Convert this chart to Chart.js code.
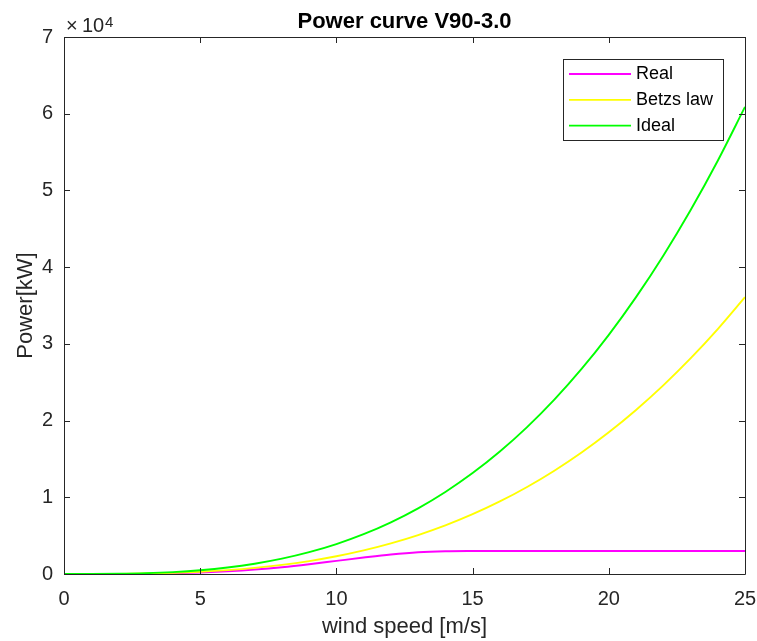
<!DOCTYPE html>
<html>
<head>
<meta charset="utf-8">
<title>Power curve V90-3.0</title>
<script src="https://cdn.jsdelivr.net/npm/chart.js@4.4.1/dist/chart.umd.min.js"></script>
<style>
  html, body { margin: 0; padding: 0; background: #ffffff; }
  #wrap { width: 757px; height: 641px; }
</style>
</head>
<body>
<div id="wrap"><canvas id="powerChart" width="757" height="641"></canvas></div>
<script>
// Wind speed in m/s
const windSpeed = [0, 1, 2, 3, 4, 5, 6, 7, 8, 9, 10, 11, 12, 13, 14, 15, 16, 17, 18, 19, 20, 21, 22, 23, 24, 25];
// Manufacturer power curve of the V90-3.0 turbine, kW
const realPower = [0, 0, 0, 0, 77, 190, 353, 581, 886, 1273, 1710, 2145, 2544, 2837, 2965, 2995, 3000, 3000, 3000, 3000, 3000, 3000, 3000, 3000, 3000, 3000];
// Betz-limited power, kW
const betzPower = [0, 2, 18, 62, 148, 289, 499, 792, 1182, 1684, 2309, 3074, 3991, 5073, 6337, 7794, 9459, 11346, 13468, 15840, 18475, 21387, 24590, 28097, 31924, 36082];
// Total kinetic power in the rotor disc, kW
const idealPower = [0, 4, 31, 105, 249, 487, 842, 1337, 1995, 2841, 3897, 5187, 6734, 8561, 10693, 13152, 15962, 19146, 22727, 26729, 31176, 36090, 41495, 47414, 53871, 60889];

const seriesNames = ['Real', 'Betzs law', 'Ideal'];
const seriesColors = ['#ff00ff', '#ffff00', '#00ff00'];

const xTicks = [0, 5, 10, 15, 20, 25];
const yTicks = [0, 10000, 20000, 30000, 40000, 50000, 60000, 70000];
const yTickLabels = ['0', '1', '2', '3', '4', '5', '6', '7'];

const FONT = '"Liberation Sans", Arial, Helvetica, sans-serif';
const AXIS_COLOR = '#262626';

const toPoints = (vals) => windSpeed.map((v, i) => ({ x: v, y: vals[i] }));

// Box, inward ticks, exponent, title and legend in the MATLAB look
const framePlugin = {
  id: 'frame',
  afterDatasetsDraw(chart) {
    const { ctx, chartArea: a, scales } = chart;
    const xs = scales.x, ys = scales.y;
    const tl = 6;
    ctx.save();
    ctx.strokeStyle = AXIS_COLOR;
    ctx.lineWidth = 1;
    ctx.beginPath();
    ctx.rect(Math.round(a.left) + 0.5, Math.round(a.top) + 0.5,
             Math.round(a.right - a.left), Math.round(a.bottom - a.top));
    ctx.stroke();
    ctx.beginPath();
    xTicks.forEach(v => {
      const px = Math.round(xs.getPixelForValue(v)) + 0.5;
      ctx.moveTo(px, a.bottom); ctx.lineTo(px, a.bottom - tl);
      ctx.moveTo(px, a.top); ctx.lineTo(px, a.top + tl);
    });
    yTicks.forEach(v => {
      const py = Math.round(ys.getPixelForValue(v)) + 0.5;
      ctx.moveTo(a.left, py); ctx.lineTo(a.left + tl, py);
      ctx.moveTo(a.right, py); ctx.lineTo(a.right - tl, py);
    });
    ctx.stroke();

    // exponent of the y axis
    ctx.fillStyle = AXIS_COLOR;
    ctx.textBaseline = 'alphabetic';
    ctx.textAlign = 'left';
    ctx.font = '20px ' + FONT;
    ctx.fillText('\u00d7', a.left + 2, a.top - 5);
    ctx.fillText('10', a.left + 18, a.top - 5);
    ctx.font = '15px ' + FONT;
    ctx.fillText('4', a.left + 41, a.top - 10);

    // title
    ctx.fillStyle = '#000000';
    ctx.font = 'bold 22px ' + FONT;
    ctx.textAlign = 'center';
    ctx.fillText('Power curve V90-3.0', (a.left + a.right) / 2, 28);

    // legend
    const lw = 160, lh = 81;
    const lx = Math.round(a.right - 22 - lw), ly = Math.round(a.top + 22);
    ctx.fillStyle = '#ffffff';
    ctx.fillRect(lx, ly, lw, lh);
    ctx.strokeStyle = AXIS_COLOR;
    ctx.strokeRect(lx + 0.5, ly + 0.5, lw, lh);
    ctx.font = '18px ' + FONT;
    ctx.textAlign = 'left';
    ctx.textBaseline = 'middle';
    chart.data.datasets.forEach((ds, i) => {
      const ry = ly + 15 + i * 25.8;
      ctx.strokeStyle = ds.borderColor;
      ctx.lineWidth = 1.8;
      ctx.beginPath();
      ctx.moveTo(lx + 6, ry); ctx.lineTo(lx + 68, ry);
      ctx.stroke();
      ctx.fillStyle = '#000000';
      ctx.fillText(ds.label, lx + 73, ry);
    });
    ctx.restore();
  }
};

new Chart(document.getElementById('powerChart'), {
  type: 'line',
  data: {
    datasets: [
      { label: seriesNames[0], data: toPoints(realPower), borderColor: seriesColors[0], order: 3 },
      { label: seriesNames[1], data: toPoints(betzPower), borderColor: seriesColors[1], order: 2 },
      { label: seriesNames[2], data: toPoints(idealPower), borderColor: seriesColors[2], order: 1 }
    ]
  },
  options: {
    responsive: false,
    animation: false,
    devicePixelRatio: 1,
    layout: { autoPadding: false, padding: { top: 37, right: 12, left: 0, bottom: 0 } },
    elements: {
      line: { borderWidth: 1.9, cubicInterpolationMode: 'monotone', fill: false },
      point: { radius: 0, hoverRadius: 0 }
    },
    datasets: { line: { clip: false } },
    plugins: {
      legend: { display: false },
      title: { display: false },
      tooltip: { enabled: false }
    },
    scales: {
      x: {
        type: 'linear',
        min: 0,
        max: 25,
        afterBuildTicks: s => { s.ticks = xTicks.map(v => ({ value: v })); },
        afterFit: s => { s.height = 67; s.paddingLeft = 0; s.paddingRight = 0; },
        grid: { display: false, drawTicks: false },
        border: { display: false },
        ticks: { color: AXIS_COLOR, font: { family: FONT, size: 20 }, padding: 13, maxRotation: 0 },
        title: {
          display: true, text: 'wind speed [m/s]', color: AXIS_COLOR,
          font: { family: FONT, size: 22 }, padding: { top: 0, bottom: 1 }
        }
      },
      y: {
        type: 'linear',
        min: 0,
        max: 70000,
        afterBuildTicks: s => { s.ticks = yTicks.map(v => ({ value: v })); },
        afterFit: s => { s.width = 64; s.paddingTop = 0; s.paddingBottom = 0; },
        grid: { display: false, drawTicks: false },
        border: { display: false },
        ticks: {
          color: AXIS_COLOR, font: { family: FONT, size: 20 }, padding: 11,
          callback: (v) => yTickLabels[yTicks.indexOf(v)]
        },
        title: {
          display: true, text: 'Power[kW]', color: AXIS_COLOR,
          font: { family: FONT, size: 22 }, padding: { top: 13, bottom: 0 }
        }
      }
    }
  },
  plugins: [framePlugin]
});
</script>
</body>
</html>
